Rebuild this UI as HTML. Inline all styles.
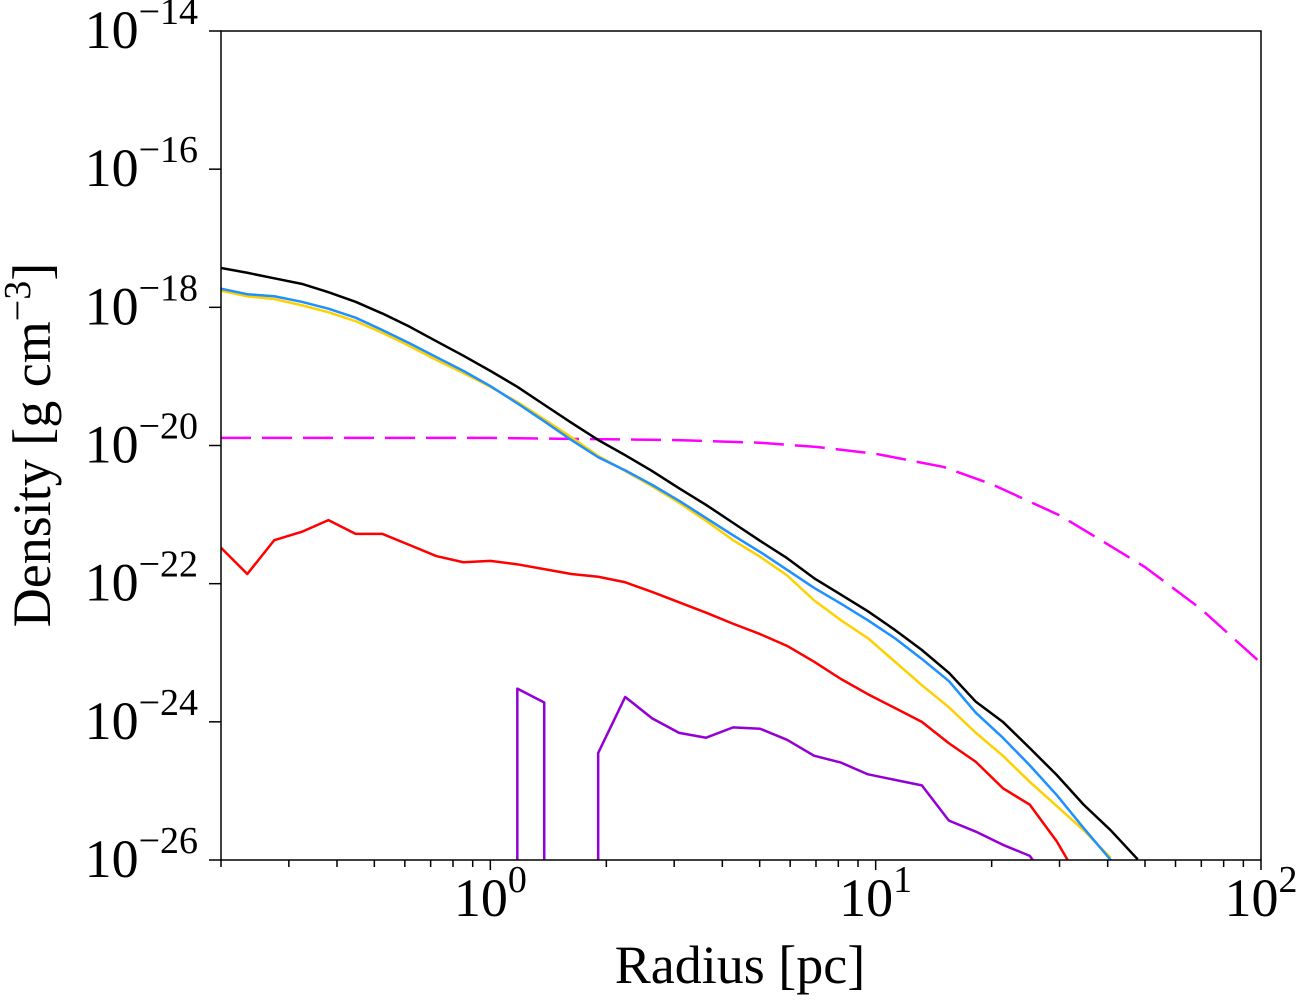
<!DOCTYPE html>
<html><head><meta charset="utf-8"><style>
body{margin:0;background:#fff}
svg text{font-family:"Liberation Serif",serif;fill:#000}
</style></head><body>
<svg id="chart" width="1300" height="1000" xmlns="http://www.w3.org/2000/svg">
<g id="plot"></g>
</svg>
<script>
const radius=[0.200,0.234,0.275,0.324,0.380,0.447,0.525,0.617,0.724,0.851,1.000,1.175,1.380,1.622,1.905,2.239,2.630,3.090,3.631,4.266,5.012,5.888,6.918,8.128,9.550,11.22,13.18,15.49,18.20,21.38,25.12,29.51,34.67,40.74,47.86];
const logTotal=[-17.43,-17.50,-17.58,-17.66,-17.78,-17.92,-18.09,-18.28,-18.49,-18.70,-18.92,-19.15,-19.41,-19.67,-19.92,-20.14,-20.37,-20.62,-20.86,-21.12,-21.38,-21.63,-21.92,-22.16,-22.40,-22.67,-22.96,-23.29,-23.71,-24.00,-24.38,-24.77,-25.20,-25.57,-25.99];
const logBlue=[-17.73,-17.81,-17.84,-17.92,-18.02,-18.15,-18.33,-18.52,-18.72,-18.92,-19.14,-19.39,-19.65,-19.92,-20.17,-20.36,-20.57,-20.80,-21.05,-21.30,-21.54,-21.80,-22.06,-22.29,-22.53,-22.79,-23.09,-23.41,-23.87,-24.23,-24.63,-25.06,-25.54,-26.0];
const logYellow=[-17.76,-17.84,-17.88,-17.97,-18.07,-18.20,-18.37,-18.56,-18.76,-18.95,-19.15,-19.37,-19.62,-19.88,-20.15,-20.37,-20.59,-20.83,-21.09,-21.37,-21.61,-21.88,-22.24,-22.53,-22.79,-23.13,-23.47,-23.79,-24.16,-24.49,-24.87,-25.22,-25.57,-25.97];
const logRed=[-21.48,-21.86,-21.37,-21.25,-21.08,-21.28,-21.28,-21.44,-21.60,-21.69,-21.67,-21.72,-21.79,-21.86,-21.90,-21.98,-22.12,-22.27,-22.42,-22.58,-22.73,-22.90,-23.13,-23.38,-23.60,-23.80,-24.00,-24.31,-24.58,-24.96,-25.20,-25.73,-26.4];
const logPurple=[null,null,null,null,null,null,null,null,null,null,null,-23.52,-23.72,null,-24.45,-23.64,-23.95,-24.16,-24.23,-24.08,-24.10,-24.26,-24.49,-24.59,-24.76,-24.84,-24.92,-25.43,-25.59,-25.78,-25.94,-26.5];
const modelRadius=[0.2,1,2,3,5,7,10,15,20,30,40,50,70,100];
const logModel=[-19.89,-19.89,-19.91,-19.92,-19.96,-20.02,-20.12,-20.31,-20.56,-21.01,-21.43,-21.76,-22.37,-23.15];
const yTicks=[-26,-24,-22,-20,-18,-16,-14];
const xTicks=[0,1,2];

const L=221,R=1261,T=31,B=860;
const xmin=Math.log10(0.2),xmax=2,ymin=-26,ymax=-14;
const X=r=>L+(Math.log10(r)-xmin)/(xmax-xmin)*(R-L);
const Y=l=>B-(l-ymin)/(ymax-ymin)*(B-T);
const NS="http://www.w3.org/2000/svg";
const g=document.getElementById('plot');
function mk(t,a,p){const e=document.createElementNS(NS,t);for(const k in a)e.setAttribute(k,a[k]);(p||g).appendChild(e);return e;}
const defs=mk('defs',{});const cp=mk('clipPath',{id:'cp'},defs);mk('rect',{x:L,y:T,width:R-L,height:B-T},cp);
const series=mk('g',{'clip-path':'url(#cp)'});
function line(xs,ys,color,name,dash){
  let segs=[],cur=[];
  ys.forEach((v,i)=>{if(v===null){if(cur.length){segs.push({pts:cur,end:true});cur=[];}}else{if(!cur.length&&i>0&&ys[i-1]===null)cur.push([X(xs[i]),B+5]);cur.push([X(xs[i]),Y(v)]);}});
  if(cur.length)segs.push({pts:cur,end:false});
  segs.forEach(s=>{let p=s.pts.slice();if(s.end)p.push([p[p.length-1][0],B+5]);
    const el=mk('polyline',{points:p.map(q=>q.join(',')).join(' '),fill:'none',stroke:color,'stroke-width':2.5,'stroke-linejoin':'round','stroke-dasharray':dash||'none'},series);
    
    
  });
}
line(modelRadius,logModel,'#ff00ff','model-density-dashed','30,11');
line(radius,logPurple,'#9400d3','purple-density-line');
line(radius,logRed,'#ff0000','red-density-line');
line(radius,logYellow,'#ffd000','yellow-density-line');
line(radius,logBlue,'#1e90ff','blue-density-line');
line(radius,logTotal,'#000000','total-density-line');
const frame=mk('rect',{x:L,y:T,width:R-L,height:B-T,fill:'none',stroke:'#000','stroke-width':1.5});


yTicks.forEach(t=>{const y=Y(t);mk('line',{x1:L-12,x2:L,y1:y,y2:y,stroke:'#000','stroke-width':1.5});
  const tx=mk('text',{x:198,y:y+17,'font-size':54,'text-anchor':'end'});
  
  
  tx.innerHTML='10<tspan dy="-24" font-size="38">\u2212'+(-t)+'</tspan>';});
for(let d=-1;d<2;d++)for(let m=1;m<10;m++){const r=m*Math.pow(10,d);if(r<0.2||r>100)continue;const x=X(r);
  mk('line',{x1:x,x2:x,y1:B,y2:B+(m===1?10:7),stroke:'#000','stroke-width':1.5});}
mk('line',{x1:X(100),x2:X(100),y1:B,y2:B+10,stroke:'#000','stroke-width':1.5});
xTicks.forEach(t=>{const x=X(Math.pow(10,t));
  const tx=mk('text',{x:x,y:916,'font-size':54,'text-anchor':'middle'});
  
  
  tx.innerHTML='10<tspan dy="-24" font-size="38">'+t+'</tspan>';});
const xl=mk('text',{x:740,y:983,'font-size':54,'text-anchor':'middle'});xl.textContent='Radius [pc]';


const yl=mk('text',{x:0,y:0,'font-size':54,'text-anchor':'middle',transform:'translate(50,445) rotate(-90)'});
yl.innerHTML='Density [g cm<tspan dy="-20" font-size="38">\u22123</tspan><tspan dy="20">]</tspan>';


</script>
</body></html>
